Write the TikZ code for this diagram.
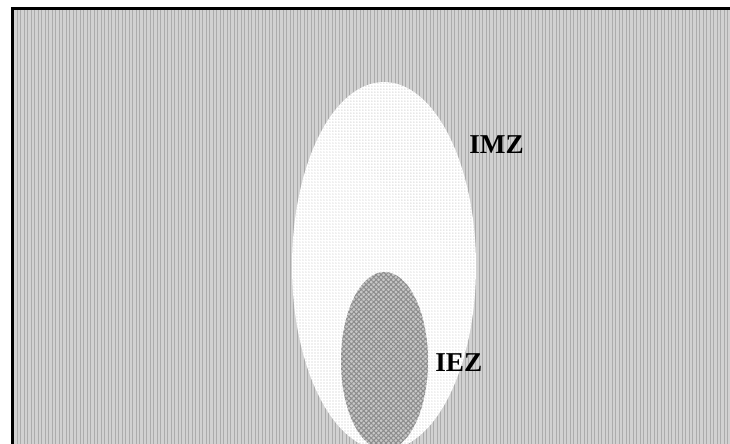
\documentclass[tikz,border=0pt]{standalone}
\usepackage{fontspec}
\setmainfont{Liberation Serif}
\usepackage{tikz}
\usetikzlibrary{shapes.geometric, patterns.meta}

\begin{document}
\begin{tikzpicture}[
    x=0.02cm, y=-0.02cm,
    font=\bfseries\fontsize{15.5}{18}\selectfont,
    field/.style={
        fill=black!18,
        postaction={pattern={Lines[angle=90, distance=0.07cm, line width=0.02cm]},
                    pattern color=black!33}
    },
    outerzone/.style={
        ellipse,
        inner sep=0pt,
        minimum width=3.68cm,
        minimum height=7.36cm,
        fill=white,
        postaction={pattern={Dots[radius=0.012cm, distance=0.06cm]},
                    pattern color=black!25}
    },
    innerzone/.style={
        ellipse,
        inner sep=0pt,
        minimum width=1.74cm,
        minimum height=3.56cm,
        fill=black!22,
        postaction={pattern={Hatch[angle=45, distance=0.07cm, line width=0.02cm]},
                    pattern color=black!45}
    },
    zonelabel/.style={
        inner sep=0pt,
        anchor=west
    }
]

\useasboundingbox (0,0) rectangle (730,443);
\clip (0,0) rectangle (730,443);

% background field
\fill[field] (12.5,8.5) rectangle (740,450);
\draw[line width=0.065cm] (12.5,455) -- (12.5,8.5) -- (740,8.5);

% zones
\node[outerzone] (imz) at (384,266) {};
\node[innerzone] (iez) at (384.5,361) {};

% labels
\node[zonelabel] (imzlabel) at (469,145) {IMZ};
\node[zonelabel] (iezlabel) at (435,363) {IEZ};

\end{tikzpicture}
\end{document}
